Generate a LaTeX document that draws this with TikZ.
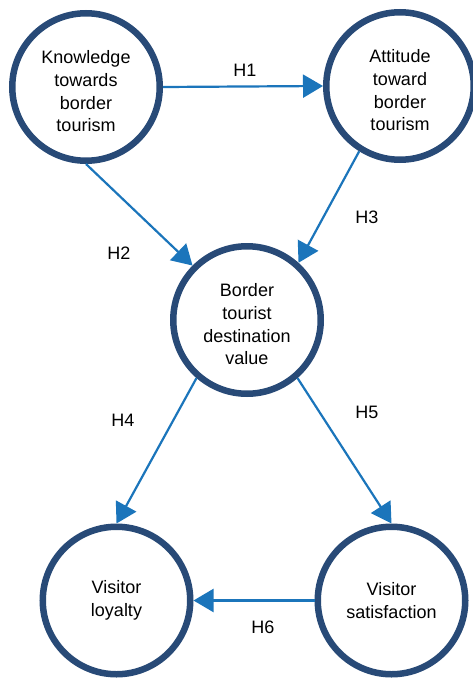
\documentclass[tikz,border=0pt]{standalone}
\usepackage{fontspec}
\setmainfont{Liberation Sans}
\usetikzlibrary{arrows.meta}
\definecolor{ring}{HTML}{284A77}
\definecolor{arr}{HTML}{1B75BB}
\newcommand{\lowr}{\rule{0pt}{22pt}}
\begin{document}
\begin{tikzpicture}[x=1pt,y=-1pt,
  concept/.style={circle, draw=ring, line width=6.5pt, fill=white, minimum size=147.5pt, inner sep=0pt, align=center, font=\fontsize{18}{22.7}\selectfont},
  link/.style={draw=arr, line width=2.2pt, -{Triangle[length=20pt,width=23pt]}},
  hlabel/.style={font=\fontsize{18}{22}\selectfont, inner sep=0pt}]
\useasboundingbox (0,0) rectangle (472,680);
\node[concept] (K) at (86,87) {\lowr Knowledge\\towards\\border\\tourism};
\node[concept] (A) at (400,86) {\lowr Attitude\\toward\\border\\tourism};
\node[concept] (B) at (247,320) {\lowr Border\\tourist\\destination\\value};
\node[concept] (L) at (116.5,600.5) {Visitor\\loyalty};
\node[concept] (S) at (391.5,600.5) {Visitor\\satisfaction};
\draw[link] (K.east) -- (A.west);
\draw[link] (K.south) -- (B.135);
\draw[link] (A.238) -- (B.48);
\draw[link] (B.229) -- (L.north);
\draw[link] (B.311) -- (S.north);
\draw[link] (S.west) -- (L.east);
\node[hlabel] (h1) at (245,70) {H1};
\node[hlabel] (h2) at (119,253) {H2};
\node[hlabel] (h3) at (367,217) {H3};
\node[hlabel] (h4) at (123,420) {H4};
\node[hlabel] (h5) at (367,412) {H5};
\node[hlabel] (h6) at (263,627) {H6};
\end{tikzpicture}
\end{document}
